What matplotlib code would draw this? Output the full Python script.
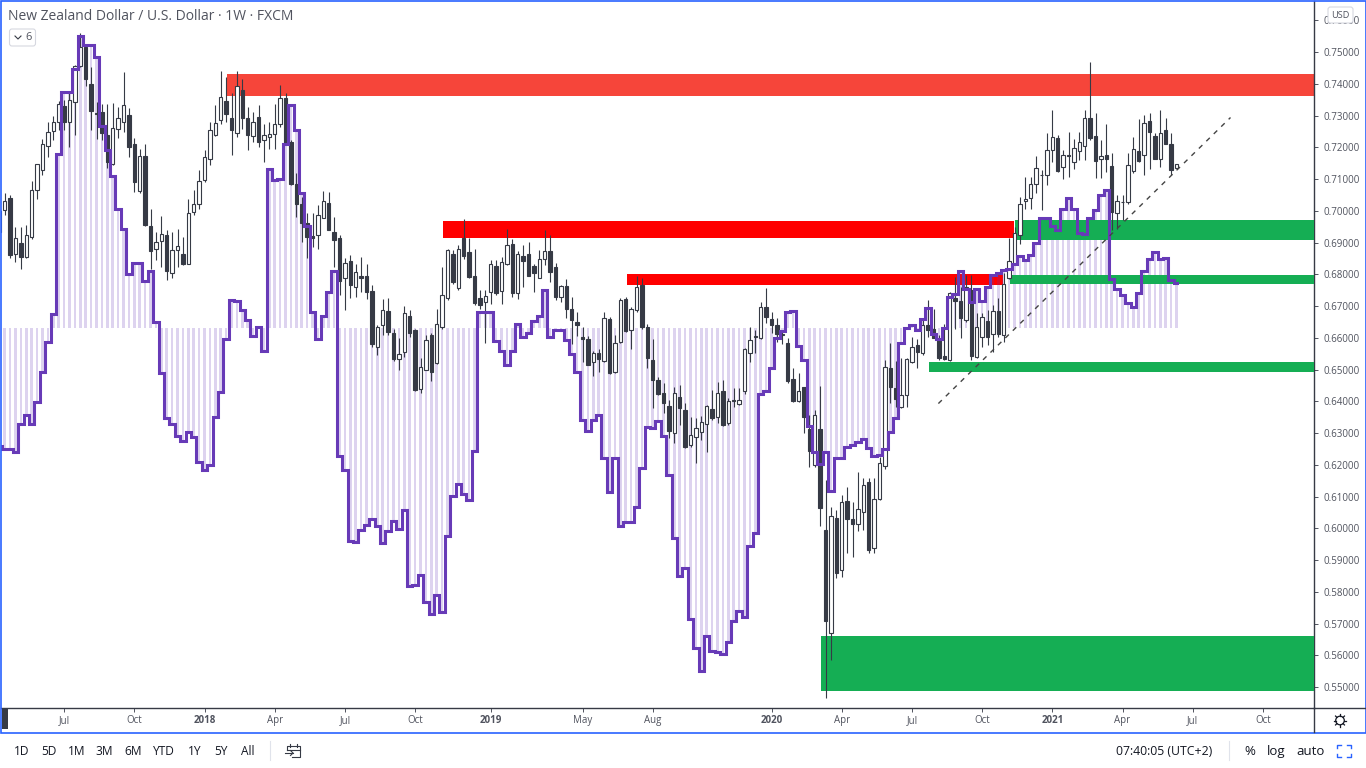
import numpy as np
import matplotlib
matplotlib.use("Agg")
import matplotlib.pyplot as plt
from matplotlib.patches import Rectangle, FancyBboxPatch, Circle

plt.rcParams['font.family'] = ['Open Sans', 'DejaVu Sans']

opens = [.6999,
 .7002,.7039,.6864,.6900,.6855,.6918,.7065,.7128,.7204,.7251,
 .7280,.7330,.7280,.7343,.7455,.7515,.7401,.7309,.7312,.7240,
 .7146,.7259,.7280,.7303,.7212,.7063,.7173,.6952,.6879,.6905,
 .6923,.6805,.6876,.6863,.6834,.6997,.7023,.7097,.7162,.7240,
 .7285,.7345,.7291,.7246,.7380,.7294,.7235,.7296,.7222,.7233,
 .7243,.7275,.7357,.7217,.7083,.7023,.6962,.6920,.6923,.6979,
 .7025,.6934,.6915,.6789,.6841,.6759,.6796,.6794,.6748,.6572,
 .6640,.6685,.6614,.6532,.6554,.6668,.6626,.6440,.6500,.6608,
 .6521,.6633,.6724,.6864,.6757,.6916,.6870,.6796,.6725,.6714,
 .6744,.6827,.6747,.6832,.6897,.6742,.6857,.6864,.6827,.6789,
 .6847,.6873,.6822,.6729,.6763,.6691,.6650,.6603,.6595,.6524,
 .6551,.6528,.6660,.6493,.6587,.6722,.6624,.6687,.6766,.6633,
 .6530,.6467,.6427,.6385,.6301,.6414,.6372,.6262,.6287,.6302,
 .6328,.6375,.6352,.6434,.6333,.6404,.6393,.6434,.6553,.6606,
 .6598,.6696,.6660,.6640,.6613,.6583,.6470,.6402,.6446,.6314,
 .6199,.6314,.5995,.5671,.6032,.5869,.6085,.6028,.6014,.6052,
 .6145,.5939,.6092,.6197,.6504,.6441,.6381,.6419,.6524,.6577,
 .6551,.6640,.6629,.6593,.6543,.6530,.6727,.6717,.6656,.6752,
 .6540,.6603,.6654,.6611,.6685,.6610,.6787,.6834,.6925,.7031,
 .7042,.7084,.7112,.7112,.7193,.7231,.7139,.7176,.7154,.7189,
 .7205,.7291,.7237,.7162,.7175,.7141,.6992,.7027,.7029,.7126,
 .7189,.7177,.7283,.7235,.7163,.7256,.7209,.7135]
closes = [.6932,
 .7030,.6860,.6916,.6855,.6925,.7065,.7147,.7209,.7249,.7280,
 .7335,.7280,.7349,.7457,.7515,.7415,.7315,.7305,.7244,.7154,
 .7262,.7291,.7334,.7202,.7091,.7173,.6955,.6874,.6902,.6928,
 .6811,.6878,.6889,.6834,.6992,.7023,.7094,.7170,.7254,.7277,
 .7359,.7306,.7254,.7393,.7294,.7240,.7280,.7217,.7238,.7243,
 .7275,.7354,.7212,.7086,.7021,.6962,.6918,.6915,.6986,.7030,
 .6941,.6908,.6778,.6837,.6766,.6808,.6789,.6745,.6579,.6635,
 .6689,.6619,.6533,.6548,.6679,.6616,.6435,.6507,.6593,.6493,
 .6645,.6735,.6878,.6776,.6880,.6857,.6792,.6710,.6703,.6732,
 .6832,.6742,.6839,.6892,.6742,.6864,.6843,.6795,.6803,.6847,
 .6874,.6806,.6729,.6763,.6692,.6656,.6641,.6597,.6514,.6551,
 .6533,.6663,.6488,.6584,.6719,.6622,.6691,.6761,.6633,.6536,
 .6467,.6423,.6394,.6308,.6425,.6379,.6257,.6294,.6315,.6336,
 .6385,.6348,.6425,.6324,.6402,.6401,.6403,.6564,.6593,.6604,
 .6698,.6665,.6640,.6612,.6610,.6464,.6401,.6434,.6350,.6245,
 .6356,.6065,.5708,.6040,.5858,.6084,.6028,.6014,.6060,.6135,
 .5932,.6093,.6207,.6507,.6446,.6406,.6420,.6532,.6570,.6554,
 .6640,.6624,.6598,.6537,.6533,.6740,.6717,.6664,.6761,.6542,
 .6635,.6666,.6603,.6685,.6611,.6771,.6843,.6929,.7020,.7036,
 .7086,.7136,.7114,.7191,.7233,.7126,.7175,.7174,.7199,.7217,
 .7294,.7231,.7157,.7174,.7162,.6997,.7030,.7029,.7144,.7196,
 .7157,.7277,.7249,.7163,.7246,.7209,.7130,.7146]
highs = [.7002,
 .7055,.7049,.6950,.6950,.6955,.7095,.7149,.7225,.7280,.7300,
 .7345,.7350,.7375,.7459,.7559,.7525,.7453,.7343,.7338,.7338,
 .7340,.7327,.7436,.7325,.7231,.7196,.7209,.7007,.6934,.6983,
 .6939,.6934,.6944,.6918,.7036,.7065,.7128,.7191,.7280,.7333,
 .7441,.7423,.7370,.7441,.7414,.7328,.7312,.7333,.7275,.7280,
 .7338,.7396,.7370,.7222,.7118,.7044,.6992,.6992,.7018,.7062,
 .7060,.6981,.6923,.6850,.6860,.6834,.6855,.6834,.6766,.6640,
 .6722,.6727,.6629,.6598,.6700,.6687,.6629,.6535,.6608,.6614,
 .6692,.6822,.6881,.6876,.6892,.6973,.6913,.6881,.6750,.6752,
 .6845,.6845,.6855,.6944,.6910,.6874,.6892,.6902,.6834,.6876,
 .6941,.6923,.6836,.6766,.6784,.6729,.6682,.6635,.6605,.6559,
 .6566,.6682,.6666,.6608,.6724,.6729,.6698,.6794,.6787,.6643,
 .6595,.6477,.6459,.6404,.6444,.6451,.6394,.6352,.6346,.6355,
 .6388,.6436,.6460,.6467,.6409,.6441,.6441,.6567,.6635,.6625,
 .6712,.6756,.6682,.6661,.6625,.6598,.6504,.6490,.6446,.6357,
 .6373,.6448,.6152,.6068,.6058,.6105,.6131,.6084,.6176,.6157,
 .6157,.6157,.6226,.6530,.6585,.6528,.6535,.6535,.6604,.6596,
 .6661,.6719,.6692,.6608,.6645,.6745,.6792,.6761,.6797,.6797,
 .6677,.6677,.6687,.6703,.6724,.6803,.6913,.6950,.7044,.7107,
 .7107,.7172,.7130,.7244,.7317,.7238,.7191,.7249,.7225,.7249,
 .7317,.7469,.7307,.7223,.7273,.7183,.7049,.7049,.7181,.7233,
 .7288,.7301,.7309,.7244,.7319,.7291,.7244,.7148]
lows = [.6930,
 .6986,.6850,.6839,.6818,.6850,.6912,.7036,.7112,.7170,.7222,
 .7254,.7254,.7200,.7240,.7453,.7393,.7254,.7225,.7223,.7135,
 .7144,.7228,.7249,.7170,.7060,.7057,.6952,.6818,.6845,.6824,
 .6782,.6787,.6824,.6829,.6834,.6986,.7007,.7091,.7144,.7235,
 .7275,.7280,.7175,.7233,.7259,.7191,.7217,.7202,.7154,.7196,
 .7196,.7264,.7212,.7081,.6981,.6902,.6850,.6887,.6881,.6976,
 .6939,.6824,.6734,.6687,.6724,.6729,.6745,.6721,.6572,.6545,
 .6608,.6608,.6527,.6500,.6540,.6603,.6433,.6425,.6498,.6464,
 .6519,.6629,.6719,.6771,.6752,.6847,.6787,.6703,.6692,.6584,
 .6706,.6734,.6708,.6829,.6729,.6721,.6761,.6794,.6745,.6787,
 .6829,.6776,.6719,.6713,.6664,.6582,.6605,.6524,.6514,.6479,
 .6493,.6524,.6486,.6488,.6584,.6619,.6566,.6682,.6629,.6506,
 .6378,.6419,.6362,.6283,.6268,.6325,.6254,.6257,.6205,.6278,
 .6239,.6341,.6331,.6322,.6325,.6381,.6388,.6423,.6524,.6553,
 .6596,.6646,.6614,.6588,.6581,.6457,.6399,.6399,.6301,.6192,
 .6194,.6007,.5467,.5585,.5843,.5848,.5921,.5909,.5990,.5995,
 .5921,.5923,.6089,.6186,.6394,.6381,.6378,.6383,.6520,.6504,
 .6545,.6603,.6598,.6530,.6530,.6528,.6629,.6601,.6650,.6530,
 .6535,.6572,.6577,.6556,.6603,.6587,.6784,.6829,.6897,.7007,
 .7007,.7055,.7002,.7081,.7154,.7123,.7099,.7107,.7133,.7160,
 .7160,.7223,.7102,.7102,.7123,.6939,.6944,.6971,.7023,.7118,
 .7154,.7112,.7133,.7163,.7139,.7209,.7112,.7133]
oscillator = [.6258,
 .6249,.6249,.6240,.6328,.6357,.6328,.6397,.6491,.6586,.6675,
 .7178,.7373,.7373,.7446,.7550,.7522,.7522,.7485,.7267,.7191,
 .7110,.7007,.6944,.6801,.6837,.6837,.6778,.6810,.6650,.6488,
 .6348,.6328,.6292,.6275,.6302,.6288,.6210,.6183,.6199,.6351,
 .6428,.6595,.6719,.6716,.6687,.6656,.6606,.6633,.6559,.7133,
 .7097,.7099,.7212,.7333,.7254,.7055,.6952,.6682,.6596,.6668,
 .6745,.6811,.6228,.6183,.5961,.5957,.5994,.6010,.6028,.6008,
 .5953,.5991,.6022,.5997,.6057,.5819,.5821,.5853,.5769,.5730,
 .5790,.5737,.5976,.6102,.6139,.6108,.6089,.6243,.6682,.6682,
 .6682,.6591,.6558,.6514,.6559,.6645,.6603,.6614,.6654,.6668,
 .6752,.6603,.6624,.6624,.6593,.6549,.6493,.6341,.6307,.6341,
 .6357,.6222,.6113,.6222,.6008,.6021,.6021,.6068,.6191,.6320,
 .6316,.6337,.6290,.6168,.5970,.5851,.5874,.5714,.5624,.5551,
 .5662,.5614,.5609,.5603,.5641,.5709,.5740,.5720,.5944,.5986,
 .6423,.6434,.6504,.6598,.6623,.6682,.6686,.6574,.6530,.6323,
 .6241,.6203,.6241,.6118,.6223,.6220,.6257,.6262,.6271,.6281,
 .6252,.6229,.6231,.6249,.6302,.6346,.6585,.6630,.6640,.6625,
 .6660,.6695,.6613,.6596,.6630,.6728,.6738,.6810,.6755,.6714,
 .6755,.6717,.6761,.6797,.6803,.6813,.6818,.6834,.6857,.6845,
 .6862,.6900,.6979,.6979,.6952,.6939,.7005,.7039,.7007,.6931,
 .6927,.6978,.7004,.7051,.7067,.6785,.6753,.6734,.6710,.6696,
 .6742,.6810,.6849,.6870,.6847,.6850,.6782,.6773]
osc_baseline = 0.6631

price_ticks = [0.55, 0.56, 0.57, 0.58, 0.59, 0.60, 0.61, 0.62, 0.63, 0.64, 0.65,
               0.66, 0.67, 0.68, 0.69, 0.70, 0.71, 0.72, 0.73, 0.74, 0.75, 0.76]
time_ticks = [11, 24, 37, 50, 63, 76, 90, 107, 120, 142, 155, 168, 181, 194, 207, 220, 233]
time_labels = ['Jul', 'Oct', '2018', 'Apr', 'Jul', 'Oct', '2019', 'May', 'Aug', '2020',
               'Apr', 'Jul', 'Oct', '2021', 'Apr', 'Jul', 'Oct']

zone_x0 = [41.1, 81.2, 115.2, 187.1, 186.2, 171.2, 151.2]
zone_x1 = [243, 186.9, 184.9, 243, 243, 243, 243]
zone_lo = [0.7362, 0.6913, 0.6766, 0.6908, 0.6769, 0.6491, 0.5488]
zone_hi = [0.7431, 0.6969, 0.6800, 0.6972, 0.6799, 0.6525, 0.5661]
zone_col = ['#F6453A', '#FF0000', '#FF0000', '#15AE54', '#15AE54', '#15AE54', '#15AE54']
zone_z = [1, 1, 1, 3, 3, 3, 3]

trend_x = [172.9, 227.0]
trend_y = [0.6393, 0.7294]

INK = '#363A45'
TXT = '#50535E'
PURPLE = '#673AB7'

fig = plt.figure(figsize=(13.66, 7.68), dpi=100, facecolor='white')
ax = fig.add_axes([1 / 1366, 60 / 768, 1313 / 1366, 707 / 768])

x = np.arange(len(opens)) - 1
o, h, l, c, osc = map(np.array, (opens, highs, lows, closes, oscillator))

for x0, x1, lo, hi, col, z in zip(zone_x0, zone_x1, zone_lo, zone_hi, zone_col, zone_z):
    ax.add_patch(Rectangle((x0, lo), x1 - x0, hi - lo, facecolor=col, edgecolor='none', zorder=z))

ax.bar(x, osc - osc_baseline, bottom=osc_baseline, width=0.5, color=PURPLE, alpha=0.22,
       linewidth=0, zorder=2)

ax.vlines(x, l, h, color=INK, linewidth=0.8, zorder=4)
up = c >= o
body_lo = np.minimum(o, c)
body_h = np.maximum(np.abs(c - o), 0.0002)
ax.bar(x[up], body_h[up], bottom=body_lo[up], width=0.6, facecolor='white', edgecolor=INK,
       linewidth=0.8, zorder=4.5)
ax.bar(x[~up], body_h[~up], bottom=body_lo[~up], width=0.6, facecolor=INK, edgecolor=INK,
       linewidth=0.8, zorder=4.5)

ax.step(x, osc, where='mid', color=PURPLE, linewidth=2.2, zorder=5, solid_joinstyle='miter')
ax.plot(trend_x, trend_y, color='#444444', linewidth=1.0, dashes=(3.5, 4), zorder=6)

ax.set_xlim(-0.685, 242.46)
ax.set_ylim(0.5434, 0.7661)
ax.yaxis.tick_right()
ax.set_yticks(price_ticks)
ax.set_yticklabels(['%.5f' % p for p in price_ticks], fontsize=7.0, color=TXT)
ax.set_xticks(time_ticks)
ax.set_xticklabels(time_labels, fontsize=7.0, color=TXT)
for lab in ax.get_xticklabels():
    if lab.get_text().startswith('20'):
        lab.set_fontweight('bold')
ax.tick_params(axis='y', length=3, width=0.7, color=TXT, pad=4)
ax.tick_params(axis='x', length=3, width=0.7, color=TXT, pad=2)
for s in ('top', 'left'):
    ax.spines[s].set_visible(False)
for s in ('right', 'bottom'):
    ax.spines[s].set_color(INK)
    ax.spines[s].set_linewidth(1.0)

# page chrome, drawn in pixel coordinates
ui = fig.add_axes([0, 0, 1, 1], facecolor='none', zorder=10)
ui.set_xlim(0, 1366)
ui.set_ylim(768, 0)
ui.axis('off')

ui.plot([1314, 1366], [708, 708], color=INK, lw=1.0)
ui.plot([1314, 1314], [708, 732], color=INK, lw=1.0)
ui.add_patch(Rectangle((0.5, 0.5), 1365, 732, fill=False, edgecolor='#2962FF', lw=1.2))
ui.add_patch(Rectangle((2, 709), 5.5, 19.5, facecolor=INK, edgecolor='none'))

ui.text(8, 16, 'New Zealand Dollar / U.S. Dollar · 1W · FXCM', fontsize=10.0, color=TXT,
        va='center', ha='left')
ui.add_patch(FancyBboxPatch((9.5, 29), 26, 17, boxstyle='round,pad=0,rounding_size=2.5',
                            facecolor='white', edgecolor='#D6D8E0', lw=0.8))
ui.plot([15, 18, 21], [36, 39, 36], color=INK, lw=0.8)
ui.text(29, 37, '6', fontsize=8, color=TXT, va='center', ha='center')

ui.add_patch(FancyBboxPatch((1328, 7), 25, 16, boxstyle='round,pad=0,rounding_size=2.5',
                            facecolor='white', edgecolor='#D6D8E0', lw=0.8))
ui.text(1340.5, 15, 'USD', fontsize=6.6, color=TXT, va='center', ha='center')

# gear
ui.add_patch(Circle((1340, 720.5), 4.3, fill=False, edgecolor='#131722', lw=0.9))
for a in np.arange(8) * np.pi / 4:
    ui.plot([1340 + 4.3 * np.cos(a), 1340 + 6.3 * np.cos(a)],
            [720.5 + 4.3 * np.sin(a), 720.5 + 6.3 * np.sin(a)], color='#131722', lw=0.9)

ranges = ['1D', '5D', '1M', '3M', '6M', 'YTD', '1Y', '5Y', 'All']
range_x = [22, 48.7, 76.5, 104.5, 133, 164, 195, 221, 248]
for t, px in zip(ranges, range_x):
    ui.text(px, 755, t, fontsize=8.6, color='#131722', va='baseline', ha='center')
ui.plot([270, 270], [741, 760], color='#E0E3EB', lw=0.8)
ui.plot([1229, 1229], [741, 760], color='#E0E3EB', lw=0.8)

# calendar icon
ui.plot([287, 287, 300, 300, 292], [750, 746, 746, 757, 757], color=INK, lw=0.8)
ui.plot([287, 300], [749.5, 749.5], color=INK, lw=0.8)
ui.plot([290, 290], [744, 747], color=INK, lw=0.8)
ui.plot([297, 297], [744, 747], color=INK, lw=0.8)
ui.plot([285, 293], [753, 753], color=INK, lw=0.8)
ui.plot([290.5, 293, 290.5], [750.5, 753, 755.5], color=INK, lw=0.8)

ui.text(1164.5, 755, '07:40:05 (UTC+2)', fontsize=8.8, color='#131722', va='baseline', ha='center')
ui.text(1249.5, 755, '%', fontsize=9.5, color='#131722', va='baseline', ha='center')
ui.text(1276.5, 755, 'log', fontsize=9.5, color='#131722', va='baseline', ha='center')
ui.text(1310.5, 755, 'auto', fontsize=9.5, color='#131722', va='baseline', ha='center')

# fullscreen corners
blue = '#2962FF'
for xs, ys in ([[1337, 1337, 1341], [748, 745, 745]], [[1347, 1351, 1351], [745, 745, 748]],
               [[1337, 1337, 1341], [754, 757, 757]], [[1347, 1351, 1351], [757, 757, 754]]):
    ui.plot(xs, ys, color=blue, lw=1.0)

fig.savefig('out.png', dpi=100, facecolor='white')
